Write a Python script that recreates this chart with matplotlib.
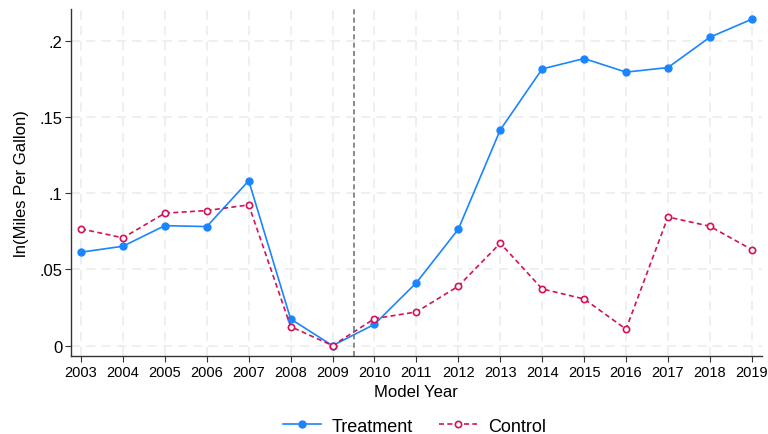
import numpy as np
import matplotlib.pyplot as plt
from matplotlib.ticker import FuncFormatter

plt.rcParams['font.family'] = ['Liberation Sans', 'DejaVu Sans']

years = list(range(2003, 2020))
treatment = [0.0613, 0.0652, 0.0787, 0.0781, 0.1082, 0.0175, 0.0, 0.0140, 0.0413,
             0.0764, 0.1415, 0.1815, 0.1883, 0.1794, 0.1824, 0.2023, 0.2141]
control = [0.0766, 0.0707, 0.0869, 0.0886, 0.0923, 0.0125, 0.0, 0.0177, 0.0221,
           0.0390, 0.0672, 0.0372, 0.0306, 0.0108, 0.0844, 0.0783, 0.0630]
policy_break = 2009.5

blue = '#1a85ff'
red = '#d41159'

fig = plt.figure(figsize=(7.68, 4.35), dpi=100)
ax = fig.add_axes([0.0924, 0.18, 0.8996, 0.797])

ax.grid(True, color='#ebebeb', linestyle=(0, (6, 4)), linewidth=1.1)
ax.set_axisbelow(True)

ax.plot(years, treatment, color=blue, linewidth=1.2, marker='o', markersize=5,
        label='Treatment')
ax.plot(years, control, color=red, linewidth=1.2, linestyle=(0, (3, 2)), marker='o',
        markersize=4.5, markerfacecolor='white', markeredgewidth=1.2, label='Control')
ax.axvline(policy_break, color='#777777', linestyle=(0, (3, 2)), linewidth=1.2)

ax.set_xlim(2002.76, 2019.24)
ax.set_ylim(-0.0066, 0.2208)
ax.set_xticks(years)
ax.set_yticks([0, 0.05, 0.1, 0.15, 0.2])
ax.yaxis.set_major_formatter(FuncFormatter(
    lambda v, p: '0' if abs(v) < 1e-9 else ('%g' % v).lstrip('0')))
ax.tick_params(axis='x', labelsize=10.5, length=4, width=0.8, color='#333333', pad=3)
ax.tick_params(axis='y', labelsize=12, length=4, width=0.8, color='#333333', pad=2)

for side in ('top', 'right'):
    ax.spines[side].set_visible(False)
for side in ('left', 'bottom'):
    ax.spines[side].set_color('#333333')
    ax.spines[side].set_linewidth(1.0)

ax.set_xlabel('Model Year', fontsize=12, labelpad=3)
ax.set_ylabel('ln(Miles Per Gallon)', fontsize=12, labelpad=8)

fig.legend(loc='lower center', bbox_to_anchor=(0.54, -0.039), ncol=2, frameon=False,
           fontsize=13, handlelength=2.1, handletextpad=0.6, columnspacing=1.45)

fig.savefig('out.png', dpi=100)
